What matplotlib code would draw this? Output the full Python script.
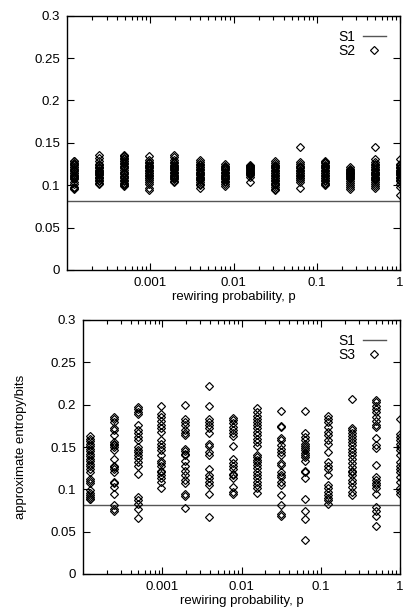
import matplotlib
matplotlib.use("Agg")
import matplotlib.pyplot as plt
from matplotlib.ticker import LogLocator, NullFormatter, FixedLocator, FixedFormatter

plt.rcParams['font.family'] = ['Liberation Sans', 'DejaVu Sans']

# rewiring probabilities (2^-13 ... 1)
p_values = [0.000122, 0.000244, 0.000488, 0.000977, 0.00195, 0.00391, 0.00781,
            0.0156, 0.03125, 0.0625, 0.125, 0.25, 0.5, 1.0]

s1_value = 0.081

s2_values = [
    [0.129, 0.128, 0.126, 0.125, 0.124, 0.122, 0.121, 0.119, 0.118, 0.117, 0.115, 0.114, 0.112, 0.111, 0.110, 0.108, 0.107, 0.104, 0.102, 0.098, 0.097, 0.096],
    [0.136, 0.132, 0.128, 0.125, 0.124, 0.122, 0.121, 0.120, 0.118, 0.117, 0.116, 0.114, 0.113, 0.112, 0.110, 0.109, 0.108, 0.106, 0.105, 0.103, 0.101],
    [0.136, 0.135, 0.134, 0.132, 0.131, 0.129, 0.128, 0.126, 0.125, 0.123, 0.121, 0.120, 0.118, 0.116, 0.115, 0.113, 0.111, 0.110, 0.108, 0.106, 0.105, 0.103, 0.101, 0.100, 0.099],
    [0.135, 0.130, 0.127, 0.126, 0.124, 0.123, 0.121, 0.120, 0.118, 0.117, 0.115, 0.114, 0.112, 0.111, 0.109, 0.108, 0.106, 0.104, 0.102, 0.097, 0.094],
    [0.136, 0.133, 0.130, 0.127, 0.126, 0.124, 0.123, 0.122, 0.120, 0.119, 0.118, 0.116, 0.115, 0.114, 0.112, 0.111, 0.110, 0.108, 0.107, 0.105, 0.104],
    [0.130, 0.127, 0.125, 0.124, 0.122, 0.121, 0.119, 0.118, 0.116, 0.115, 0.113, 0.112, 0.110, 0.109, 0.107, 0.106, 0.104, 0.102, 0.100, 0.097],
    [0.125, 0.123, 0.122, 0.120, 0.119, 0.118, 0.116, 0.115, 0.114, 0.112, 0.111, 0.110, 0.108, 0.107, 0.105, 0.104, 0.102, 0.099],
    [0.124, 0.123, 0.122, 0.121, 0.120, 0.119, 0.118, 0.117, 0.116, 0.115, 0.114, 0.113, 0.112, 0.110, 0.104],
    [0.128, 0.126, 0.124, 0.123, 0.121, 0.120, 0.118, 0.117, 0.115, 0.114, 0.112, 0.111, 0.109, 0.108, 0.106, 0.105, 0.103, 0.101, 0.100, 0.098, 0.096, 0.094],
    [0.145, 0.127, 0.125, 0.123, 0.121, 0.120, 0.118, 0.117, 0.115, 0.114, 0.112, 0.111, 0.109, 0.108, 0.106, 0.104, 0.097],
    [0.129, 0.127, 0.126, 0.124, 0.123, 0.121, 0.120, 0.118, 0.117, 0.115, 0.114, 0.112, 0.111, 0.109, 0.108, 0.106, 0.105, 0.103, 0.101, 0.100],
    [0.121, 0.119, 0.118, 0.117, 0.116, 0.115, 0.114, 0.113, 0.112, 0.111, 0.110, 0.109, 0.107, 0.105, 0.103, 0.100, 0.098, 0.096],
    [0.145, 0.131, 0.127, 0.125, 0.124, 0.122, 0.121, 0.119, 0.118, 0.116, 0.115, 0.113, 0.112, 0.110, 0.109, 0.107, 0.106, 0.104, 0.101, 0.099, 0.097],
    [0.131, 0.125, 0.124, 0.122, 0.121, 0.120, 0.118, 0.117, 0.116, 0.114, 0.113, 0.112, 0.110, 0.109, 0.108, 0.106, 0.105, 0.101, 0.098, 0.089],
]

s3_values = [
    [0.163, 0.160, 0.157, 0.154, 0.151, 0.148, 0.145, 0.142, 0.139, 0.136, 0.133, 0.130, 0.127, 0.124, 0.121, 0.112, 0.110, 0.107, 0.099, 0.096, 0.093, 0.091, 0.089, 0.088],
    [0.186, 0.183, 0.179, 0.173, 0.170, 0.164, 0.156, 0.154, 0.152, 0.150, 0.146, 0.136, 0.128, 0.126, 0.124, 0.120, 0.109, 0.107, 0.103, 0.095, 0.081, 0.077, 0.074],
    [0.197, 0.195, 0.191, 0.189, 0.176, 0.170, 0.166, 0.162, 0.158, 0.150, 0.147, 0.144, 0.140, 0.137, 0.132, 0.128, 0.118, 0.091, 0.087, 0.083, 0.077, 0.066],
    [0.198, 0.189, 0.185, 0.181, 0.176, 0.172, 0.168, 0.158, 0.154, 0.150, 0.146, 0.140, 0.134, 0.131, 0.128, 0.122, 0.120, 0.117, 0.113, 0.109, 0.101],
    [0.200, 0.183, 0.180, 0.176, 0.170, 0.167, 0.164, 0.148, 0.145, 0.142, 0.140, 0.134, 0.128, 0.122, 0.117, 0.111, 0.107, 0.095, 0.092, 0.078],
    [0.222, 0.199, 0.183, 0.180, 0.176, 0.172, 0.167, 0.154, 0.151, 0.144, 0.140, 0.124, 0.117, 0.113, 0.109, 0.105, 0.095, 0.067],
    [0.184, 0.182, 0.178, 0.174, 0.170, 0.166, 0.163, 0.151, 0.136, 0.131, 0.128, 0.124, 0.118, 0.117, 0.113, 0.103, 0.097, 0.094],
    [0.196, 0.191, 0.187, 0.183, 0.180, 0.176, 0.172, 0.168, 0.164, 0.160, 0.156, 0.151, 0.141, 0.138, 0.135, 0.132, 0.129, 0.125, 0.121, 0.117, 0.113, 0.109, 0.105, 0.101, 0.096],
    [0.192, 0.175, 0.174, 0.161, 0.158, 0.152, 0.148, 0.144, 0.140, 0.131, 0.129, 0.120, 0.117, 0.115, 0.109, 0.105, 0.093, 0.082, 0.071, 0.069],
    [0.192, 0.167, 0.162, 0.158, 0.154, 0.151, 0.149, 0.146, 0.143, 0.141, 0.138, 0.133, 0.122, 0.120, 0.113, 0.089, 0.075, 0.065, 0.040],
    [0.187, 0.183, 0.179, 0.174, 0.168, 0.164, 0.158, 0.154, 0.144, 0.132, 0.128, 0.124, 0.117, 0.105, 0.101, 0.097, 0.093, 0.090, 0.087, 0.083],
    [0.207, 0.172, 0.170, 0.167, 0.163, 0.159, 0.156, 0.152, 0.148, 0.144, 0.140, 0.136, 0.131, 0.126, 0.122, 0.120, 0.117, 0.111, 0.107, 0.103, 0.097, 0.093],
    [0.206, 0.203, 0.199, 0.195, 0.191, 0.185, 0.181, 0.176, 0.174, 0.161, 0.152, 0.149, 0.129, 0.115, 0.111, 0.108, 0.105, 0.101, 0.095, 0.079, 0.075, 0.069, 0.057],
    [0.183, 0.165, 0.162, 0.158, 0.154, 0.150, 0.146, 0.140, 0.132, 0.127, 0.124, 0.120, 0.115, 0.109, 0.101, 0.098, 0.094],
]

xtick_values = [0.001, 0.01, 0.1, 1]
xtick_labels = ["0.001", "0.01", "0.1", "1"]
ytick_values = [0, 0.05, 0.1, 0.15, 0.2, 0.25, 0.3]
ytick_labels = ["0", "0.05", "0.1", "0.15", "0.2", "0.25", "0.3"]

W, H = 405, 609
fig = plt.figure(figsize=(W / 100, H / 100), dpi=100)

FS = 9.5
ax_top = fig.add_axes([67 / W, 1 - 270 / H, 333 / W, 254.3 / H])
ax_bot = fig.add_axes([83 / W, 1 - 574 / H, 317 / W, 254 / H])


def draw(ax, series, label):
    ax.axhline(s1_value, color='#555555', lw=1.0, label='S1', zorder=1)
    xs, ys = [], []
    for p, vals in zip(p_values, series):
        xs.extend([p] * len(vals))
        ys.extend(vals)
    ax.plot(xs, ys, linestyle='none', marker='D', markersize=3.9,
            markerfacecolor='none', markeredgecolor='black',
            markeredgewidth=0.85, label=label, zorder=2)
    ax.set_xscale('log')
    ax.set_xlim(1e-4, 1)
    ax.set_ylim(0, 0.3)
    ax.xaxis.set_major_locator(FixedLocator(xtick_values))
    ax.xaxis.set_major_formatter(FixedFormatter(xtick_labels))
    ax.xaxis.set_minor_locator(LogLocator(base=10, subs=range(2, 10)))
    ax.xaxis.set_minor_formatter(NullFormatter())
    ax.yaxis.set_major_locator(FixedLocator(ytick_values))
    ax.yaxis.set_major_formatter(FixedFormatter(ytick_labels))
    ax.tick_params(which='both', direction='in', top=True, right=True,
                   labelsize=FS, width=0.8, pad=5)
    ax.tick_params(which='major', length=5)
    ax.tick_params(which='minor', length=3)
    for s in ax.spines.values():
        s.set_linewidth(1.0)
    ax.set_xlabel('rewiring probability, p', fontsize=FS, labelpad=1.5)
    ax.legend(loc='upper right', markerfirst=False, frameon=False,
              fontsize=10, handlelength=1.7, handletextpad=0.5,
              borderaxespad=0.6, labelspacing=0.0)


draw(ax_top, s2_values, 'S2')
draw(ax_bot, s3_values, 'S3')
ax_bot.set_ylabel('approximate entropy/bits', fontsize=FS, labelpad=17)

fig.savefig('out.png', dpi=100)
